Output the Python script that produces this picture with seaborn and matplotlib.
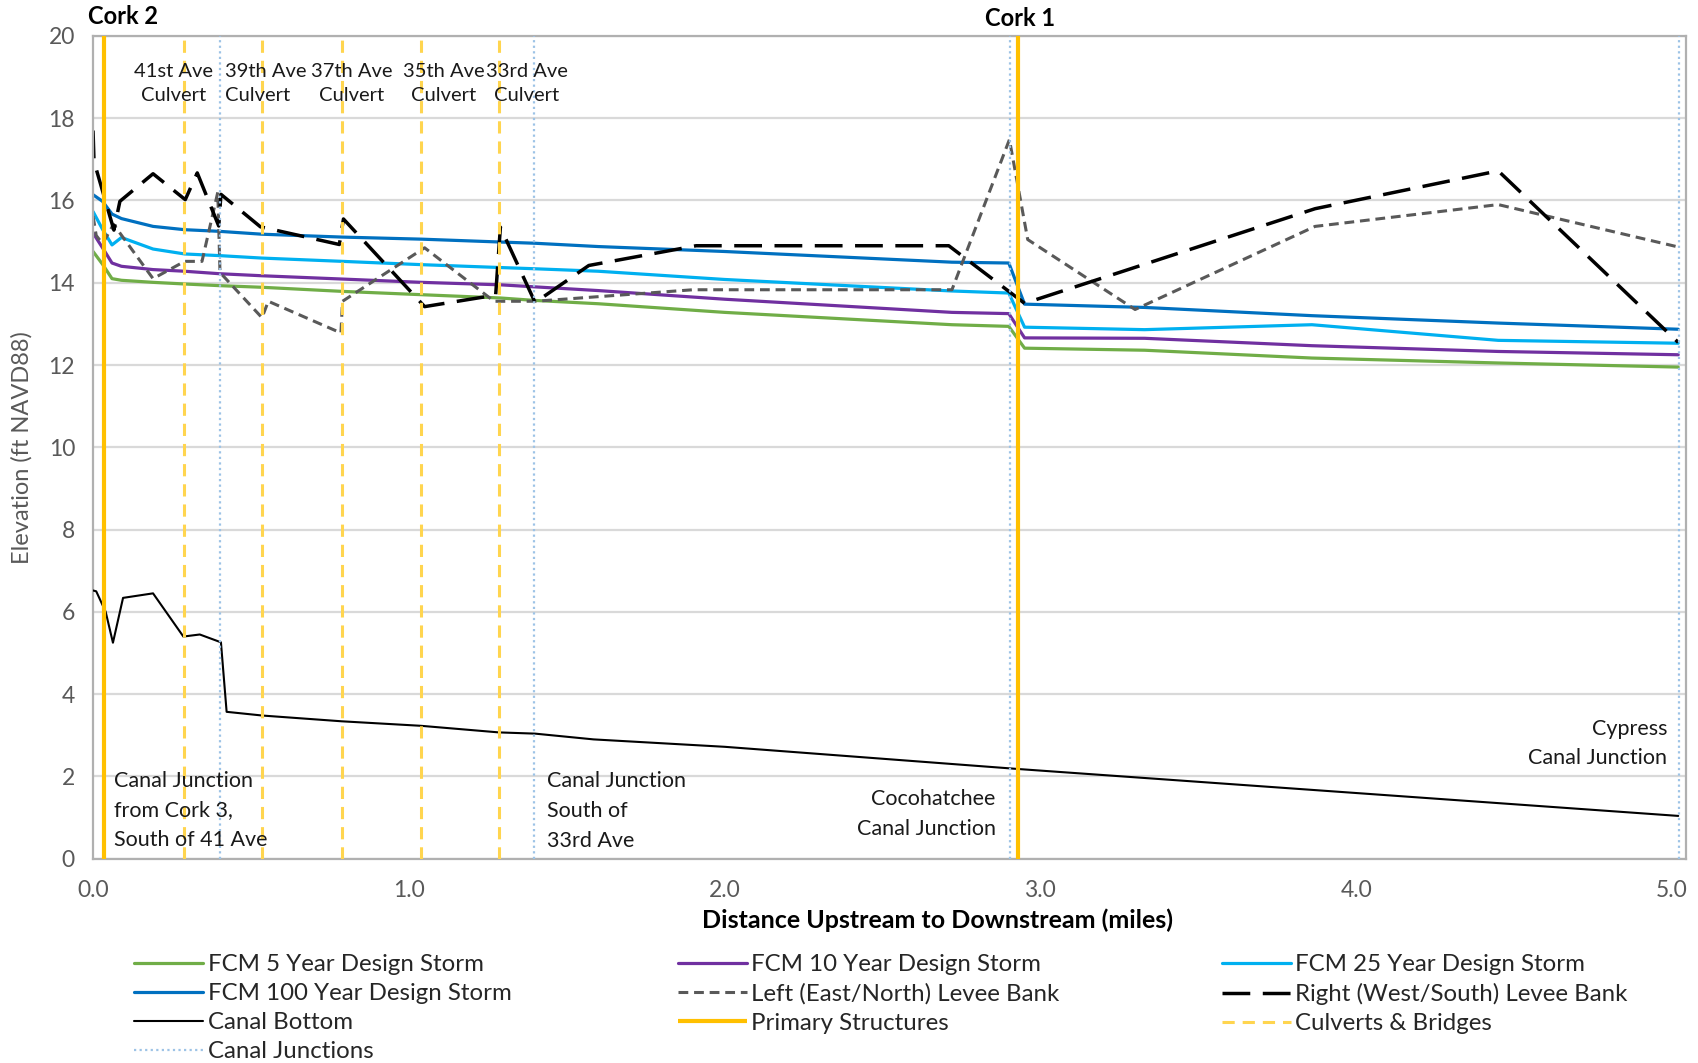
import matplotlib
matplotlib.use("Agg")
import matplotlib.pyplot as plt
import seaborn as sns

sns.set_theme(style="white")
plt.rcParams["font.family"] = ["Lato", "DejaVu Sans"]

# ---- water surface profiles (miles, ft NAVD88) ----
fcm_x = [0.0, 0.03, 0.06, 0.09, 0.19, 0.29, 0.40, 0.535, 0.79, 1.04, 1.29,
         1.40, 1.60, 2.0, 2.72, 2.90, 2.95, 3.33, 3.86, 4.45, 5.02]
fcm5_y = [14.76, 14.45, 14.10, 14.06, 14.01, 13.97, 13.93, 13.89, 13.79, 13.71, 13.63,
          13.57, 13.49, 13.28, 12.98, 12.94, 12.41, 12.36, 12.17, 12.05, 11.95]
fcm10_y = [15.21, 14.85, 14.48, 14.40, 14.32, 14.28, 14.22, 14.17, 14.09, 14.01, 13.95,
           13.90, 13.81, 13.60, 13.28, 13.25, 12.66, 12.65, 12.47, 12.33, 12.25]
fcm25_y = [15.73, 15.30, 14.92, 15.10, 14.82, 14.70, 14.66, 14.60, 14.52, 14.44, 14.37,
           14.34, 14.28, 14.08, 13.80, 13.75, 12.92, 12.86, 12.98, 12.60, 12.53]
fcm100_y = [16.14, 15.98, 15.67, 15.56, 15.37, 15.29, 15.25, 15.18, 15.11, 15.06, 14.99,
            14.96, 14.88, 14.76, 14.50, 14.48, 13.48, 13.40, 13.20, 13.02, 12.87]

# ---- levee banks ----
left_x = [0.0, 0.01, 0.03, 0.065, 0.19, 0.29, 0.345, 0.395, 0.402, 0.535, 0.555,
          0.785, 0.79, 1.05, 1.27, 1.40, 1.90, 2.72, 2.902, 2.96, 3.30, 3.87, 4.45, 5.02]
left_y = [15.62, 15.15, 14.95, 15.42, 14.10, 14.52, 14.52, 16.20, 14.25, 13.15, 13.55,
          12.78, 13.55, 14.85, 13.55, 13.55, 13.83, 13.83, 17.48, 15.05, 13.35, 15.37, 15.90, 14.87]

right_x = [0.0, 0.003, 0.066, 0.085, 0.19, 0.292, 0.33, 0.398, 0.405, 0.53, 0.78, 0.793,
           1.05, 1.275, 1.29, 1.40, 1.57, 1.91, 2.71, 2.95, 3.87, 4.45, 5.02]
right_y = [17.70, 16.95, 15.28, 15.98, 16.65, 16.02, 16.67, 15.38, 16.15, 15.36, 14.93, 15.55,
           13.42, 13.70, 15.35, 13.52, 14.42, 14.90, 14.90, 13.50, 15.80, 16.72, 12.55]

# ---- canal bottom ----
bottom_x = [0.0, 0.01, 0.04, 0.063, 0.095, 0.19, 0.286, 0.338, 0.405, 0.423, 0.536,
            0.787, 1.039, 1.285, 1.40, 1.585, 2.0, 2.93, 5.02]
bottom_y = [6.52, 6.50, 6.00, 5.25, 6.34, 6.45, 5.40, 5.45, 5.26, 3.57, 3.48,
            3.34, 3.23, 3.07, 3.04, 2.90, 2.72, 2.18, 1.04]

# ---- structures ----
primary_x = [0.034, 2.930]
culvert_x = [0.288, 0.535, 0.788, 1.038, 1.285]
junction_x = [0.401, 1.398, 2.905, 5.022]

culvert_labels = ["41st Ave\nCulvert", "39th Ave\nCulvert", "37th Ave\nCulvert",
                  "35th Ave\nCulvert", "33rd Ave\nCulvert"]
culvert_label_x = [0.254, 0.418, 0.819, 1.110, 1.374]
culvert_label_ha = ["center", "left", "center", "center", "center"]

ymin, ymax = 0, 20

fig = plt.figure(figsize=(16.98, 10.63), dpi=100)
ax = fig.add_axes([0.0548, 0.1922, 0.9382, 0.7740])

line_kw = dict(ax=ax, estimator=None, sort=False)
sns.lineplot(x=fcm_x, y=fcm5_y, color="#70AD47", lw=2.3, label="FCM 5 Year Design Storm", zorder=2, **line_kw)
sns.lineplot(x=fcm_x, y=fcm10_y, color="#7030A0", lw=2.3, label="FCM 10 Year Design Storm", zorder=2.1, **line_kw)
sns.lineplot(x=fcm_x, y=fcm25_y, color="#00B0F0", lw=2.3, label="FCM 25 Year Design Storm", zorder=2.2, **line_kw)
sns.lineplot(x=fcm_x, y=fcm100_y, color="#0070C0", lw=2.3, label="FCM 100 Year Design Storm", zorder=2.3, **line_kw)
sns.lineplot(x=left_x, y=left_y, color="#595959", lw=2.2, linestyle=(0, (3.2, 1.9)),
             label="Left (East/North) Levee Bank", zorder=2.4, **line_kw)
sns.lineplot(x=right_x, y=right_y, color="black", lw=2.5, linestyle=(0, (8, 3.6)),
             label="Right (West/South) Levee Bank", zorder=2.5, **line_kw)
sns.lineplot(x=bottom_x, y=bottom_y, color="black", lw=1.5, label="Canal Bottom", zorder=2.6, **line_kw)

ax.vlines(primary_x, ymin, ymax, colors="#FFC000", lw=3.0, label="Primary Structures", zorder=2.7)
ax.vlines(culvert_x, ymin, ymax, colors="#FFD54F", lw=2.2, linestyles=[(0, (4, 2.6))],
          label="Culverts & Bridges", zorder=2.8)
ax.vlines(junction_x, ymin, ymax, colors="#9DC3E6", lw=1.6, linestyles=[(0, (1, 1.5))],
          label="Canal Junctions", zorder=2.9)

leg = ax.get_legend()
if leg is not None:
    leg.remove()

# axes styling
ax.set_xlim(0, 5.045)
ax.set_ylim(ymin, ymax)
ax.set_yticks(range(0, 21, 2))
ax.set_xticks([0, 1, 2, 3, 4, 5])
ax.set_xticklabels([f"{v:.1f}" for v in [0, 1, 2, 3, 4, 5]])
ax.yaxis.grid(True, color="#D9D9D9", lw=1.6)
ax.xaxis.grid(False)
ax.set_axisbelow(True)
for s in ax.spines.values():
    s.set_color("#B0B0B0")
    s.set_linewidth(1.6)
ax.tick_params(axis="both", length=0, labelsize=16.5, labelcolor="#595959")
ax.tick_params(axis="y", pad=13)
ax.tick_params(axis="x", pad=15)

ax.set_ylabel("Elevation (ft NAVD88)", fontsize=17, color="#595959")
ax.yaxis.set_label_coords(-0.038, 0.5)
ax.set_xlabel("Distance Upstream to Downstream (miles)", fontsize=18, fontweight="bold", color="black")
ax.xaxis.set_label_coords(0.530, -0.060)

# structure annotations
txt = dict(fontsize=15.5, color="#1a1a1a", clip_on=False, linespacing=1.6)
ax.text(0.096, 20.47, "Cork 2", ha="center", va="center", fontweight="bold", fontsize=17, color="black", clip_on=False)
ax.text(2.937, 20.42, "Cork 1", ha="center", va="center", fontweight="bold", fontsize=17, color="black", clip_on=False)
for lab, lx, ha in zip(culvert_labels, culvert_label_x, culvert_label_ha):
    ax.text(lx, 18.84, lab, ha=ha, va="center", multialignment="center" if ha == "center" else "left",
            fontsize=14.5, color="#1a1a1a", clip_on=False, linespacing=1.55)
ax.text(0.065, 1.18, "Canal Junction\nfrom Cork 3,\nSouth of 41 Ave", ha="left", va="center", **txt)
ax.text(1.439, 1.16, "Canal Junction\nSouth of\n33rd Ave", ha="left", va="center", **txt)
ax.text(2.858, 1.09, "Cocohatchee\nCanal Junction", ha="right", va="center", multialignment="right", **txt)
ax.text(4.986, 2.80, "Cypress\nCanal Junction", ha="right", va="center", multialignment="right", **txt)

# legend in three columns below the plot
handles, labels = ax.get_legend_handles_labels()
hmap = dict(zip(labels, handles))
columns = [
    ["FCM 5 Year Design Storm", "FCM 100 Year Design Storm", "Canal Bottom", "Canal Junctions"],
    ["FCM 10 Year Design Storm", "Left (East/North) Levee Bank", "Primary Structures"],
    ["FCM 25 Year Design Storm", "Right (West/South) Levee Bank", "Culverts & Bridges"],
]
col_x = [0.0791, 0.3993, 0.7194]
for cx, col in zip(col_x, columns):
    lg = fig.legend([hmap[c] for c in col], col, loc="upper left", bbox_to_anchor=(cx, 0.1023),
                    bbox_transform=fig.transFigure, frameon=False, fontsize=17.3,
                    handlelength=2.87, handletextpad=0.18, labelspacing=0.33,
                    borderpad=0, borderaxespad=0)
    for t in lg.get_texts():
        t.set_color("#262626")

fig.savefig("out.png", dpi=100)
